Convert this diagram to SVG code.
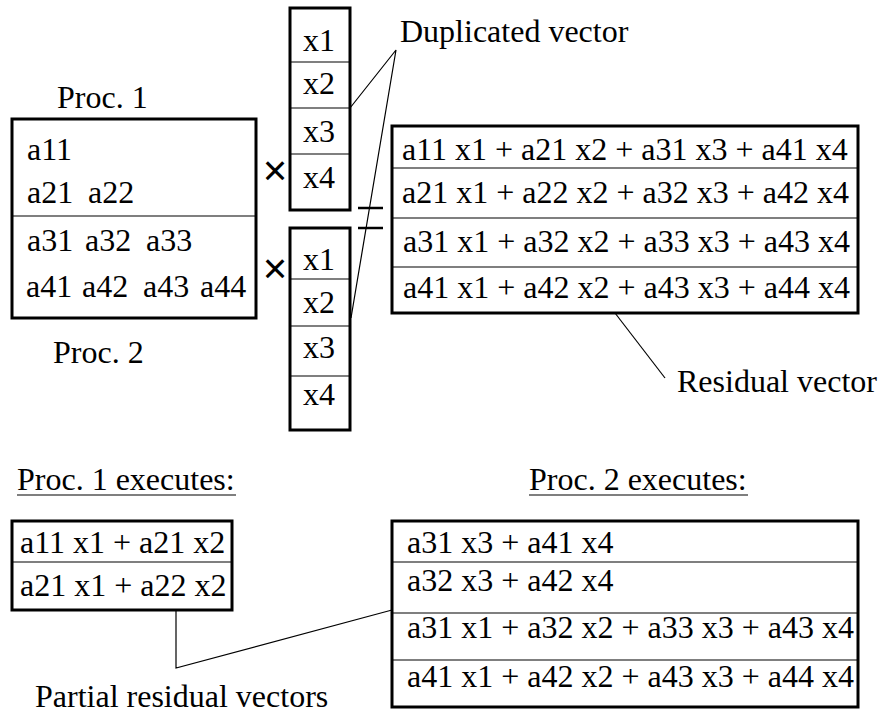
<svg xmlns="http://www.w3.org/2000/svg" width="882" height="716" viewBox="0 0 882 716">
<style>
text{font-family:"Liberation Serif","Times New Roman",serif;font-size:32px;fill:#000}
.sans{font-family:"Liberation Sans",Arial,sans-serif;font-size:42px}
.box{fill:none;stroke:#000;stroke-width:3}
.div{stroke:#000;stroke-width:1.2}
.ln{stroke:#000;stroke-width:1.2;fill:none}
.bar{stroke:#000;stroke-width:2.5}
</style>
<rect width="882" height="716" fill="#fff"/>
<g id="matrix">
<rect class="box" x="12" y="119" width="244" height="199"/>
<line class="div" x1="12" y1="216" x2="256" y2="216"/>
<text x="27" y="160">a11</text>
<text x="27" y="203">a21</text><text x="88" y="203">a22</text>
<text x="27" y="251">a31</text><text x="85" y="251">a32</text><text x="146" y="251">a33</text>
<text x="26" y="297">a41</text><text x="82" y="297">a42</text><text x="143" y="297">a43</text><text x="200" y="297">a44</text>
</g>
<g id="labels">
<text x="57" y="108">Proc. 1</text>
<text x="53" y="363">Proc. 2</text>
<text class="sans" x="275" y="185" text-anchor="middle">×</text>
<text class="sans" x="275" y="283" text-anchor="middle">×</text>
<text x="400" y="42">Duplicated vector</text>
<text x="677" y="392">Residual vector</text>
<text x="35" y="707">Partial residual vectors</text>
</g>
<g id="vector1">
<rect class="box" x="290" y="8" width="60" height="202"/>
<line class="div" x1="290" y1="62" x2="350" y2="62"/>
<line class="div" x1="290" y1="108" x2="350" y2="108"/>
<line class="div" x1="290" y1="154" x2="350" y2="154"/>
<text x="303" y="51">x1</text>
<text x="303" y="94">x2</text>
<text x="303" y="142">x3</text>
<text x="303" y="188">x4</text>
</g>
<g id="vector2">
<rect class="box" x="290" y="228" width="60" height="202"/>
<line class="div" x1="290" y1="279" x2="350" y2="279"/>
<line class="div" x1="290" y1="326" x2="350" y2="326"/>
<line class="div" x1="290" y1="376" x2="350" y2="376"/>
<text x="303" y="270">x1</text>
<text x="303" y="313">x2</text>
<text x="303" y="358">x3</text>
<text x="303" y="405">x4</text>
</g>
<g id="equals">
<line class="bar" x1="358" y1="208" x2="383" y2="208"/>
<line class="bar" x1="358" y1="228" x2="383" y2="228"/>
</g>
<g id="residual">
<rect class="box" x="392" y="126" width="466" height="187"/>
<line class="div" x1="392" y1="168" x2="858" y2="168"/>
<line class="div" x1="392" y1="218" x2="858" y2="218"/>
<line class="div" x1="392" y1="267" x2="858" y2="267"/>
<text x="402" y="160">a11 x1 + a21 x2 + a31 x3 + a41 x4</text>
<text x="402" y="203">a21 x1 + a22 x2 + a32 x3 + a42 x4</text>
<text x="403" y="252">a31 x1 + a32 x2 + a33 x3 + a43 x4</text>
<text x="403" y="298">a41 x1 + a42 x2 + a43 x3 + a44 x4</text>
</g>
<g id="proc1exec">
<text x="17" y="490">Proc. 1 executes:</text>
<line class="div" x1="17" y1="495" x2="236" y2="495" stroke-width="1.5"/>
<rect class="box" x="12" y="521" width="220" height="89"/>
<line class="div" x1="12" y1="562" x2="232" y2="562"/>
<text x="20" y="553">a11 x1 + a21 x2</text>
<text x="20" y="596">a21 x1 + a22 x2</text>
</g>
<g id="proc2exec">
<text x="529" y="490">Proc. 2 executes:</text>
<line class="div" x1="529" y1="495" x2="748" y2="495" stroke-width="1.5"/>
<rect class="box" x="392" y="521" width="466" height="186"/>
<line class="div" x1="392" y1="562" x2="858" y2="562"/>
<line class="div" x1="392" y1="613" x2="858" y2="613"/>
<line class="div" x1="392" y1="660" x2="858" y2="660"/>
<text x="407" y="553">a31 x3 + a41 x4</text>
<text x="407" y="591">a32 x3 + a42 x4</text>
<text x="407" y="638">a31 x1 + a32 x2 + a33 x3 + a43 x4</text>
<text x="407" y="687">a41 x1 + a42 x2 + a43 x3 + a44 x4</text>
</g>
<g id="connectors">
<polyline class="ln" points="350,108 396,50 351,318"/>
<line class="ln" x1="615" y1="313" x2="665" y2="378"/>
<polyline class="ln" points="176,610 176,668 392,610"/>
</g>
</svg>
